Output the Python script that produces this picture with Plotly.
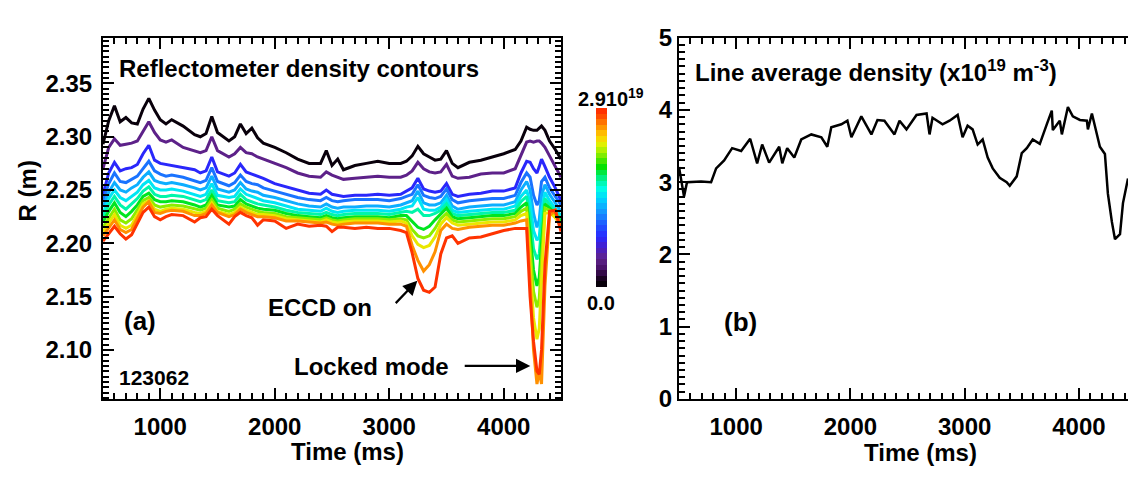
import plotly.graph_objects as go
from plotly.colors import sample_colorscale

W, H = 1128, 478
FONT = "Liberation Sans, Arial, Helvetica, sans-serif"

# ---------------- reflectometer density contours (panel a) ----------------
t_contour = [500, 550, 600, 650, 700, 750, 800, 850, 900, 950,
             1000, 1050, 1100, 1200, 1300, 1350, 1400, 1450, 1500,
             1600, 1650, 1700, 1750, 1800, 1850, 1900,
             2000, 2100, 2200, 2300, 2400, 2450, 2500, 2550, 2600,
             2700, 2800, 2900, 3000, 3100, 3150,
             3200, 3250, 3300, 3350, 3400, 3450, 3500, 3550, 3600,
             3700, 3800, 3900, 4000, 4100, 4150,
             4200, 4230, 4260, 4290, 4310, 4330, 4360, 4400, 4450, 4500]

# density level of each contour (10^19 m^-3)
density_levels = [0.05, 0.45, 0.8, 1.1, 1.3, 1.5, 1.7, 1.9, 2.15, 2.35, 2.6, 2.85]

r_black = [2.293, 2.315, 2.329, 2.314, 2.318, 2.313, 2.312, 2.326, 2.336, 2.325,
           2.316, 2.312, 2.316, 2.310, 2.302, 2.300, 2.303, 2.319, 2.304,
           2.296, 2.300, 2.312, 2.303, 2.308, 2.299, 2.294,
           2.290, 2.285, 2.279, 2.275, 2.275, 2.287, 2.273, 2.279, 2.269,
           2.273, 2.275, 2.277, 2.275, 2.275, 2.277,
           2.282, 2.291, 2.284, 2.281, 2.278, 2.279, 2.287, 2.275, 2.271,
           2.276, 2.278, 2.281, 2.284, 2.288, 2.296,
           2.309, 2.307, 2.306, 2.306, 2.308, 2.310, 2.306, 2.296, 2.288, 2.279]
r_purple = [2.270, 2.290, 2.298, 2.292, 2.293, 2.294, 2.296, 2.305, 2.314, 2.304,
            2.297, 2.295, 2.297, 2.290, 2.287, 2.285, 2.287, 2.300, 2.287,
            2.281, 2.284, 2.290, 2.285, 2.284, 2.281, 2.279,
            2.275, 2.271, 2.266, 2.263, 2.262, 2.267, 2.264, 2.262, 2.260,
            2.261, 2.262, 2.263, 2.262, 2.262, 2.264,
            2.268, 2.276, 2.270, 2.267, 2.266, 2.267, 2.274, 2.263, 2.261,
            2.262, 2.265, 2.266, 2.266, 2.270, 2.283,
            2.295, 2.296, 2.295, 2.296, 2.296, 2.294, 2.290, 2.282, 2.272, 2.262]
r_blue = [2.246, 2.266, 2.276, 2.268, 2.270, 2.271, 2.274, 2.284, 2.292, 2.278,
          2.275, 2.274, 2.273, 2.271, 2.269, 2.266, 2.268, 2.281, 2.267,
          2.263, 2.266, 2.274, 2.267, 2.265, 2.263, 2.261,
          2.256, 2.253, 2.250, 2.247, 2.246, 2.250, 2.246, 2.245, 2.244,
          2.245, 2.245, 2.246, 2.245, 2.246, 2.249,
          2.252, 2.261, 2.251, 2.249, 2.248, 2.249, 2.256, 2.246, 2.244,
          2.246, 2.247, 2.249, 2.249, 2.252, 2.266,
          2.277, 2.276, 2.270, 2.266, 2.272, 2.279, 2.272, 2.262, 2.252, 2.240]
r_dodger = [2.240, 2.256, 2.266, 2.258, 2.257, 2.260, 2.263, 2.270, 2.277, 2.268,
            2.265, 2.263, 2.264, 2.262, 2.259, 2.257, 2.259, 2.271, 2.258,
            2.254, 2.257, 2.264, 2.258, 2.256, 2.255, 2.252,
            2.249, 2.246, 2.243, 2.241, 2.240, 2.243, 2.240, 2.239, 2.240,
            2.241, 2.241, 2.241, 2.240, 2.242, 2.244,
            2.246, 2.255, 2.245, 2.243, 2.242, 2.244, 2.251, 2.241, 2.238,
            2.240, 2.241, 2.242, 2.242, 2.245, 2.257,
            2.266, 2.262, 2.245, 2.236, 2.240, 2.258, 2.262, 2.252, 2.244, 2.236]
r_sky = [2.234, 2.248, 2.257, 2.250, 2.248, 2.252, 2.255, 2.262, 2.267, 2.259,
         2.257, 2.256, 2.257, 2.255, 2.252, 2.250, 2.252, 2.263, 2.251,
         2.248, 2.250, 2.257, 2.251, 2.249, 2.248, 2.245,
         2.243, 2.240, 2.237, 2.235, 2.234, 2.237, 2.234, 2.233, 2.234,
         2.234, 2.235, 2.235, 2.234, 2.236, 2.238,
         2.240, 2.249, 2.238, 2.236, 2.236, 2.238, 2.245, 2.235, 2.232,
         2.234, 2.235, 2.236, 2.236, 2.239, 2.250,
         2.258, 2.250, 2.228, 2.215, 2.222, 2.245, 2.255, 2.246, 2.238, 2.230]
r_cyan = [2.228, 2.242, 2.250, 2.243, 2.240, 2.244, 2.248, 2.255, 2.259, 2.252,
          2.250, 2.250, 2.251, 2.249, 2.246, 2.244, 2.246, 2.256, 2.245,
          2.243, 2.244, 2.251, 2.246, 2.244, 2.242, 2.240,
          2.238, 2.235, 2.232, 2.231, 2.230, 2.233, 2.230, 2.229, 2.230,
          2.231, 2.231, 2.231, 2.230, 2.232, 2.234,
          2.235, 2.243, 2.232, 2.231, 2.231, 2.234, 2.241, 2.231, 2.229,
          2.230, 2.231, 2.232, 2.232, 2.235, 2.244,
          2.250, 2.238, 2.212, 2.203, 2.206, 2.230, 2.248, 2.240, 2.233, 2.226]
r_spring = [2.224, 2.236, 2.244, 2.236, 2.232, 2.237, 2.242, 2.249, 2.253, 2.246,
            2.244, 2.244, 2.245, 2.244, 2.241, 2.239, 2.241, 2.250, 2.240,
            2.238, 2.239, 2.246, 2.241, 2.239, 2.237, 2.236,
            2.234, 2.231, 2.229, 2.228, 2.227, 2.229, 2.227, 2.226, 2.227,
            2.228, 2.228, 2.228, 2.227, 2.229, 2.230,
            2.229, 2.232, 2.226, 2.226, 2.228, 2.231, 2.237, 2.228, 2.226,
            2.227, 2.228, 2.229, 2.229, 2.231, 2.239,
            2.244, 2.225, 2.195, 2.185, 2.190, 2.215, 2.242, 2.236, 2.230, 2.223]
r_green = [2.220, 2.230, 2.238, 2.229, 2.225, 2.230, 2.236, 2.244, 2.247, 2.241,
           2.239, 2.239, 2.240, 2.239, 2.236, 2.234, 2.236, 2.245, 2.236,
           2.234, 2.235, 2.241, 2.237, 2.235, 2.233, 2.232,
           2.231, 2.228, 2.226, 2.225, 2.224, 2.226, 2.224, 2.223, 2.224,
           2.225, 2.225, 2.225, 2.224, 2.226, 2.226,
           2.220, 2.215, 2.213, 2.216, 2.222, 2.228, 2.233, 2.225, 2.223,
           2.224, 2.225, 2.226, 2.226, 2.228, 2.234,
           2.238, 2.210, 2.175, 2.160, 2.168, 2.200, 2.237, 2.233, 2.228, 2.220]
r_ygreen = [2.215, 2.224, 2.232, 2.222, 2.219, 2.223, 2.231, 2.240, 2.243, 2.236,
            2.234, 2.235, 2.236, 2.235, 2.232, 2.231, 2.233, 2.241, 2.233,
            2.230, 2.232, 2.237, 2.234, 2.232, 2.230, 2.229,
            2.228, 2.225, 2.224, 2.223, 2.222, 2.224, 2.222, 2.221, 2.222,
            2.223, 2.223, 2.223, 2.222, 2.223, 2.222,
            2.213, 2.207, 2.205, 2.207, 2.214, 2.223, 2.228, 2.222, 2.220,
            2.221, 2.222, 2.223, 2.223, 2.225, 2.230,
            2.233, 2.195, 2.155, 2.140, 2.148, 2.185, 2.233, 2.231, 2.226, 2.218]
r_yellow = [2.211, 2.219, 2.227, 2.217, 2.214, 2.217, 2.227, 2.237, 2.240, 2.232,
            2.230, 2.232, 2.233, 2.232, 2.229, 2.228, 2.230, 2.238, 2.230,
            2.227, 2.229, 2.234, 2.231, 2.229, 2.227, 2.227,
            2.226, 2.223, 2.222, 2.221, 2.220, 2.222, 2.220, 2.219, 2.220,
            2.221, 2.221, 2.221, 2.220, 2.221, 2.219,
            2.207, 2.199, 2.196, 2.198, 2.206, 2.218, 2.224, 2.219, 2.217,
            2.218, 2.219, 2.220, 2.220, 2.222, 2.226,
            2.228, 2.180, 2.130, 2.110, 2.120, 2.165, 2.228, 2.229, 2.224, 2.216]
r_orange = [2.207, 2.214, 2.222, 2.213, 2.210, 2.213, 2.224, 2.234, 2.239, 2.229,
            2.228, 2.230, 2.231, 2.230, 2.226, 2.226, 2.228, 2.236, 2.229,
            2.225, 2.227, 2.232, 2.229, 2.227, 2.225, 2.225,
            2.224, 2.221, 2.221, 2.220, 2.219, 2.220, 2.218, 2.217, 2.218,
            2.219, 2.219, 2.219, 2.218, 2.218, 2.216,
            2.198, 2.184, 2.174, 2.180, 2.192, 2.212, 2.218, 2.214, 2.213,
            2.215, 2.216, 2.217, 2.217, 2.219, 2.221,
            2.222, 2.165, 2.100, 2.068, 2.080, 2.068, 2.160, 2.226, 2.231, 2.214]
r_red = [2.202, 2.209, 2.216, 2.209, 2.204, 2.208, 2.219, 2.229, 2.234, 2.225,
         2.222, 2.225, 2.227, 2.226, 2.220, 2.224, 2.225, 2.232, 2.226,
         2.218, 2.225, 2.229, 2.226, 2.224, 2.217, 2.222,
         2.221, 2.214, 2.218, 2.216, 2.217, 2.216, 2.211, 2.215, 2.215,
         2.214, 2.215, 2.214, 2.214, 2.212, 2.210,
         2.191, 2.167, 2.156, 2.154, 2.159, 2.190, 2.205, 2.207, 2.200,
         2.205, 2.206, 2.209, 2.212, 2.214, 2.214,
         2.214, 2.150, 2.108, 2.080, 2.077, 2.100, 2.180, 2.230, 2.231, 2.211]

contour_R = [r_black, r_purple, r_blue, r_dodger, r_sky, r_cyan,
             r_spring, r_green, r_ygreen, r_yellow, r_orange, r_red]

# ---------------- line average density (panel b) ----------------
t_nel = [500, 544, 570, 693, 781, 825, 895, 965, 1044, 1123,
         1184, 1228, 1289, 1377, 1404, 1447, 1509, 1570, 1658, 1746,
         1798, 1833, 1921, 1974, 2009, 2096, 2184, 2237, 2298, 2386,
         2430, 2491, 2579, 2667, 2693, 2719, 2807, 2868, 2939, 2982,
         3026, 3070, 3114, 3158, 3202, 3246, 3307, 3368, 3395, 3456,
         3500, 3544, 3596, 3658, 3719, 3763, 3772, 3833, 3851, 3904,
         3947, 4009, 4070, 4079, 4114, 4158, 4184, 4228, 4254, 4289,
         4316, 4360, 4386, 4430]
nel = [3.21, 2.80, 3.00, 3.01, 3.00, 3.19, 3.30, 3.47, 3.43, 3.60,
       3.26, 3.52, 3.27, 3.49, 3.26, 3.47, 3.34, 3.59, 3.66, 3.62,
       3.49, 3.76, 3.80, 3.85, 3.62, 3.91, 3.66, 3.86, 3.85, 3.66,
       3.85, 3.73, 3.93, 3.95, 3.66, 3.89, 3.80, 3.85, 3.93, 3.62,
       3.78, 3.73, 3.52, 3.59, 3.34, 3.19, 3.06, 3.00, 2.95, 3.08,
       3.40, 3.47, 3.59, 3.53, 3.80, 3.99, 3.72, 3.85, 3.66, 4.04,
       3.91, 3.86, 3.85, 3.73, 3.95, 3.66, 3.49, 3.39, 2.84, 2.45,
       2.21, 2.28, 2.71, 3.05]

# rainbow-with-black colour table, 0 .. 2.9e19
N_MAX = 2.9
base_scale = [
    [0.00, "rgb(0,0,0)"], [0.04, "rgb(20,0,25)"], [0.10, "rgb(70,15,100)"],
    [0.16, "rgb(95,35,140)"], [0.22, "rgb(70,30,200)"], [0.28, "rgb(40,40,255)"],
    [0.35, "rgb(30,90,255)"], [0.42, "rgb(20,150,255)"], [0.49, "rgb(0,210,255)"],
    [0.55, "rgb(0,255,230)"], [0.61, "rgb(0,240,130)"], [0.67, "rgb(0,225,0)"],
    [0.73, "rgb(120,235,0)"], [0.79, "rgb(220,245,0)"], [0.84, "rgb(255,210,0)"],
    [0.90, "rgb(255,140,0)"], [0.95, "rgb(255,80,0)"], [1.00, "rgb(255,35,0)"],
]
N_STEPS = 32
step_colors = sample_colorscale(base_scale, [(i + 0.5) / N_STEPS for i in range(N_STEPS)])
stepped_scale = []
for i, c in enumerate(step_colors):
    stepped_scale.append([i / N_STEPS, c])
    stepped_scale.append([(i + 1) / N_STEPS, c])

line_colors = sample_colorscale(base_scale, [lv / N_MAX for lv in density_levels])


def px_x(x):
    return x / W


def px_y(y):
    return 1 - y / H


fig = go.Figure()

for k, r_vals in enumerate(contour_R):
    fig.add_trace(go.Scatter(
        x=t_contour, y=r_vals, mode="lines",
        line=dict(color=line_colors[k], width=3),
        xaxis="x", yaxis="y", showlegend=False, hoverinfo="skip"))

# colour bar for the contour levels
fig.add_trace(go.Scatter(
    x=[None], y=[None], mode="markers", xaxis="x", yaxis="y", showlegend=False,
    marker=dict(color=[0], cmin=0, cmax=N_MAX, colorscale=stepped_scale, showscale=True,
                colorbar=dict(thickness=11, thicknessmode="pixels", len=179, lenmode="pixels",
                              x=px_x(596), xanchor="left", y=px_y(289), yanchor="bottom",
                              xpad=0, ypad=0, outlinewidth=0, showticklabels=False, ticks=""))))

fig.add_trace(go.Scatter(
    x=t_nel, y=nel, mode="lines", line=dict(color="black", width=2.5),
    xaxis="x2", yaxis="y2", showlegend=False, hoverinfo="skip"))

tick_font = dict(family=FONT, size=24, color="black", weight="bold")
common = dict(ticks="inside", ticklen=11, tickwidth=2, tickcolor="black",
              showline=True, linewidth=2, linecolor="black", showgrid=False,
              zeroline=False, tickfont=tick_font)
ydom = [px_y(408), px_y(25)]

fig.update_layout(
    width=W, height=H, margin=dict(l=0, r=0, t=0, b=0),
    paper_bgcolor="white", plot_bgcolor="white",
    font=dict(family=FONT, size=24, color="black", weight="bold"),
    xaxis=dict(domain=[px_x(103), px_x(561)], range=[500, 4500], anchor="y",
               tickvals=[1000, 2000, 3000, 4000], mirror="ticks", ticklabelstandoff=5,
               minor=dict(dtick=100, tick0=0, ticks="inside", ticklen=6, tickwidth=1.5,
                          tickcolor="black"), **common),
    yaxis=dict(domain=ydom, range=[2.054, 2.393], anchor="x", dtick=0.05, tick0=2.0,
               tickformat=".2f", mirror="ticks", ticklabelstandoff=4,
               minor=dict(dtick=0.005, tick0=2.0, ticks="inside", ticklen=6, tickwidth=1.5,
                          tickcolor="black"), **common),
    xaxis2=dict(domain=[px_x(679), 1.0], range=[500, 4430], anchor="y2",
                tickvals=[1000, 2000, 3000, 4000], mirror="ticks", ticklabelstandoff=5,
                minor=dict(dtick=100, tick0=0, ticks="inside", ticklen=6, tickwidth=1.5,
                           tickcolor="black"), **common),
    yaxis2=dict(domain=ydom, range=[0, 5], anchor="x2", dtick=1, tick0=0, mirror=False,
                ticklabelstandoff=0,
                minor=dict(dtick=0.1, tick0=0, ticks="inside", ticklen=6, tickwidth=1.5,
                           tickcolor="black"), **common),
)


def label(text, x, y, size=24, xanchor="center", yanchor="middle", angle=0):
    fig.add_annotation(text=text, x=px_x(x), y=px_y(y), xref="paper", yref="paper",
                       xanchor=xanchor, yanchor=yanchor, showarrow=False, textangle=angle,
                       font=dict(family=FONT, size=size, color="black", weight="bold"))


label("Reflectometer density contours", 117, 58, xanchor="left")
label("R (m)", 27, 188, angle=-90)
label("2.910<sup>19</sup>", 576, 104, size=20, xanchor="left", yanchor="bottom")
label("0.0", 601, 306, size=20)
label("(a)", 140, 325, size=26)
label("ECCD on", 320, 311)
label("Locked mode", 371, 374)
label("123062", 154, 385, size=21)
label("Time (ms)", 347, 464)
label("Line average density (x10<sup>19</sup> m<sup>-3</sup>)", 693, 60, xanchor="left")
label("(b)", 740, 326, size=26)
label("Time (ms)", 920, 465)

# arrows pointing at the ECCD and locked-mode features
arrow = dict(showarrow=True, arrowhead=2, arrowsize=1.3, arrowwidth=2.2, arrowcolor="black",
             text="", xref="x", yref="y", axref="x", ayref="y")
fig.add_annotation(x=3245, y=2.165, ax=3044, ay=2.1425, **arrow)
fig.add_annotation(x=4232, y=2.085, ax=3646, ay=2.085, **arrow)

fig.write_html("out.html")
